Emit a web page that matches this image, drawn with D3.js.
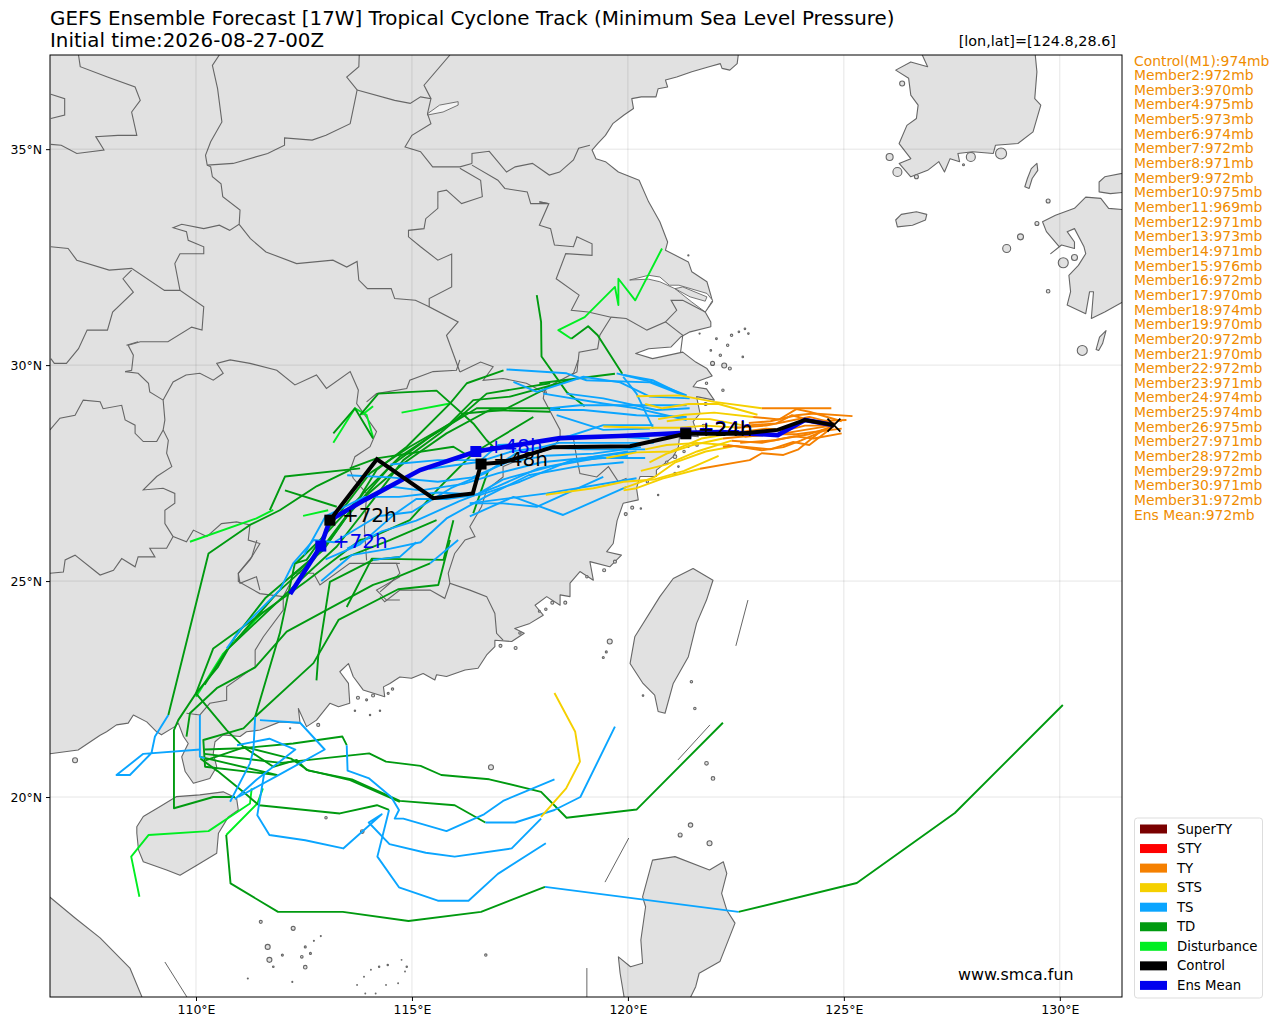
<!DOCTYPE html>
<html><head><meta charset="utf-8">
<script src="https://cdnjs.cloudflare.com/ajax/libs/d3/7.8.5/d3.min.js"></script>
<style>html,body{margin:0;padding:0;background:#fff}svg{display:block}text{font-family:"DejaVu Sans",sans-serif}</style>
</head><body><svg id="c" width="1280" height="1025"></svg>
<script>
const titleLine1="GEFS Ensemble Forecast [17W] Tropical Cyclone Track (Minimum Sea Level Pressure)";
const titleLine2="Initial time:2026-08-27-00Z";
const stormPos="[lon,lat]=[124.8,28.6]";
const lonTicks=[110,115,120,125,130];
const latTicks=[20,25,30,35];
const memberNames=["Control(M1)"].concat(d3.range(2,32).map(i=>"Member"+i)).concat(["Ens Mean"]);
const memberPressure=[974,972,970,975,973,974,972,971,972,975,969,971,973,971,976,972,970,974,970,972,970,972,971,974,974,975,971,972,972,971,972,972];
const legendNames=["SuperTY","STY","TY","STS","TS","TD","Disturbance","Control","Ens Mean"];
const legendColors=["#7a0000","#ff0000","#f58000","#f5d000","#0aa5ff","#009a10","#00ee22","#000000","#0000ee"];

const mainland=[[122.57,37.3],[122.53,36.98],[122.36,36.83],[122.18,36.87],[122.14,36.98],[121.88,36.91],[121.48,36.79],[121.13,36.67],[120.87,36.6],[120.92,36.44],[120.7,36.4],[120.65,36.21],[120.31,36.21],[120.09,36.17],[120.13,35.94],[119.91,35.79],[119.65,35.59],[119.48,35.32],[119.3,35.13],[119.17,34.98],[119.26,34.78],[119.48,34.71],[119.78,34.47],[120.26,34.28],[120.48,33.78],[120.74,33.32],[120.92,32.85],[120.87,32.66],[121.4,32.39],[121.48,32.16],[121.83,31.93],[121.92,31.62],[121.96,31.47],[121.79,31.23],[121.92,31],[121.92,30.89],[121.44,30.77],[121.22,30.65],[121,30.42],[120.48,30.38],[120.18,30.27],[120.57,30.15],[121.27,30.3],[121.57,30.07],[121.83,29.92],[121.95,29.75],[121.6,29.62],[121.51,29.5],[121.82,29.45],[122,29.19],[121.59,29.27],[121.67,28.88],[121.51,28.69],[121.63,28.34],[121.2,28.38],[121.17,28.11],[121.05,27.88],[120.66,27.57],[120.66,27.42],[120.28,27.42],[120.2,27.15],[120.24,26.88],[119.89,26.8],[119.75,26.4],[119.66,25.87],[119.51,25.68],[119.85,25.6],[119.58,25.33],[119.12,25.45],[119.2,25.02],[118.89,25.22],[118.66,24.95],[118.66,24.64],[118.43,24.68],[118.43,24.44],[118.12,24.64],[117.85,24.44],[118.04,24.21],[117.73,24.02],[117.38,23.9],[117.6,23.79],[117.31,23.6],[116.92,23.63],[116.92,23.48],[116.73,23.29],[116.53,22.98],[116.23,22.94],[115.8,22.79],[115.57,22.83],[115.53,22.71],[115.26,22.86],[114.99,22.75],[114.72,22.78],[114.49,22.63],[114.34,22.55],[114.37,22.32],[113.87,22.48],[113.64,22.79],[113.53,23.09],[113.33,22.9],[113.53,22.63],[113.56,22.17],[113.3,22.09],[113.1,22.17],[112.79,21.78],[112.56,21.63],[112.37,22.05],[112.41,21.71],[111.94,21.74],[111.48,21.55],[111.17,21.51],[111.02,21.4],[110.63,21.44],[110.44,21.28],[110.4,21.01],[110.48,20.7],[110.32,20.43],[109.94,20.32],[109.75,20.59],[109.67,20.93],[109.82,21.24],[109.71,21.4],[109.59,21.71],[109.51,21.63],[109.2,21.44],[109.09,21.51],[108.86,21.74],[108.55,21.9],[108.43,21.71],[108.16,21.67],[107.93,21.51],[107.78,21.43],[107.27,21.09],[106.4,20.97],[106.4,37.3]];
const hainan=[[108.63,19.31],[108.78,19.55],[109.17,19.78],[109.55,20.01],[110.09,20.05],[110.63,20.12],[110.94,19.97],[110.98,19.7],[110.75,19.54],[110.52,19.16],[110.48,18.7],[110.02,18.42],[109.63,18.19],[109.32,18.31],[108.78,18.5],[108.67,18.77],[108.63,19.16]];
const taiwan=[[121.51,25.29],[121.97,25.02],[121.82,24.56],[121.59,24.02],[121.4,23.25],[121.05,22.63],[120.86,21.94],[120.7,21.98],[120.62,22.36],[120.35,22.63],[120.05,23.09],[120.16,23.71],[120.74,24.64],[121.05,25.06]];
const luzon=[[120.57,18.54],[121.09,18.62],[121.89,18.31],[122.21,18.5],[122.29,18.23],[122.17,17.77],[122.29,17.38],[122.48,17.08],[122.13,16.19],[121.65,15.92],[121.57,15.61],[121.37,15.2],[119.94,15.2],[119.82,15.92],[119.78,16.3],[120.06,16.07],[120.34,16.15],[120.3,16.69],[120.41,17.46],[120.34,17.69]];
const vietnamSouth=[[106.4,17.68],[106.62,17.68],[107.2,17.2],[107.78,16.74],[108.47,16.04],[108.82,15.2],[106.4,15.2]];
const korea=[[126.76,37.3],[126.94,36.91],[126.55,37.02],[126.2,36.83],[126.5,36.64],[126.55,36.25],[126.72,36.02],[126.68,35.71],[126.46,35.55],[126.28,35.13],[126.55,34.78],[126.28,34.67],[126.55,34.36],[126.94,34.51],[127.2,34.71],[127.33,34.47],[127.46,34.78],[127.68,34.71],[127.64,34.9],[127.98,34.94],[128.46,34.9],[128.51,35.09],[129.03,35.13],[129.38,35.4],[129.56,36.02],[129.42,36.17],[129.47,36.79],[129.42,37.3]];
const jeju=[[126.2,33.36],[126.33,33.49],[126.68,33.55],[126.92,33.49],[126.89,33.36],[126.59,33.24],[126.24,33.2]];
const honshu=[[131.6,34.47],[131.04,34.36],[130.91,34.24],[130.91,34.01],[131.17,33.97],[131.6,34.01]];
const kyushu=[[131.6,33.59],[131.13,33.63],[130.95,33.86],[130.6,33.89],[130.34,33.63],[129.9,33.47],[129.6,33.32],[129.69,33.09],[129.99,32.74],[129.79,32.58],[130.04,32.78],[130.34,32.7],[130.34,32.85],[130.17,33.09],[130.34,33.16],[130.56,32.74],[130.6,32.58],[130.43,32.31],[130.21,32.08],[130.25,31.7],[130.17,31.39],[130.6,31.19],[130.69,31.7],[130.78,31.7],[130.73,31.08],[131.04,31.23],[131.6,31.54]];
const tsushima=[[129.47,34.67],[129.49,34.51],[129.36,34.32],[129.29,34.09],[129.19,34.13],[129.25,34.32],[129.34,34.55]];
const tanegashima=[[131.07,30.8],[130.99,30.5],[130.9,30.34],[130.84,30.36],[130.92,30.65]];
const landPolygons=[mainland,hainan,taiwan,luzon,vietnamSouth,korea,jeju,honshu,kyushu,tsushima,tanegashima];
const yangtze=[[120.04,31.97],[120.48,32.08],[120.74,32.04],[120.96,31.85],[121.18,31.85],[121.83,31.66],[121.96,31.5],[121.79,31.23],[121.48,31.46],[121.09,31.77],[120.74,31.93],[120.48,31.99]];
const chongming=[[121.09,31.77],[121.27,31.81],[121.83,31.58],[121.79,31.48],[121.44,31.58]];
const lakeStrip=[[115.36,35.82],[115.64,36.02],[116.07,36.1],[116.07,36.02],[115.72,35.86],[115.36,35.79]];
const islands=[[126.06,34.82,3.5],[126.24,34.47,4.5],[128.64,34.9,5.5],[127.94,34.82,4.5],[126.68,34.36,2],[126.35,36.52,2.5],[127.77,34.64,1],[129.73,33.8,2],[128.77,32.7,4],[129.09,32.97,3],[129.47,33.28,2],[130.08,32.37,5],[130.34,32.49,3],[129.73,31.71,1.8],[130.52,30.34,5],
[111.5,17.11,1.5],[112.25,16.96,2],[111.66,16.53,2.5],[111.7,16.23,2.5],[112,16.34,1],[112.45,16.3,1.3],[112.53,16.53,1],[112.65,16.38,1],[112.53,16.06,1.8],[111.79,16.07,.8],[112.89,16.78,.5],[112.73,16.67,.5],[111.2,15.8,.5],[112.23,15.72,.5],[113.01,19.52,1.2],[113.85,19.2,1.8],[116.71,16.34,1.2],[116.83,20.69,2.5],
[113.73,15.65,.4],[113.92,15.45,.4],[114.16,15.45,.4],[114.4,15.65,.4],[114.68,15.69,.4],[114.84,15.96,.4],[114.88,16.07,.7],[114.76,16.23,.4],[114.44,16.11,.7],[114.24,16.07,.7],[114.05,16,.4],[113.89,15.84,.4],
[121.45,19.35,2.2],[121.21,19.12,2],[121.89,18.93,2.5],[121.82,20.78,1.8],[121.97,20.43,1.8],[119.58,23.6,2.5],[119.5,23.36,1],[119.43,23.23,1],[121.47,22.67,1.2],[121.55,22.05,1.2],[120.35,22.35,.8],
[121.82,29.58,1.2],[122.2,29.42,1.2],[121.09,27.49,1.2],[121.17,27.65,.8],[120.7,26.99,.7],[120.3,26.68,.7],[121.09,27.88,1.8],[121.4,28.11,.7],[122.05,30.61,.9],[122.4,30.69,1.2],[122.57,30.77,.8],[122.71,30.84,.8],[122.79,30.73,.8],[122.31,30.46,1.2],[121.92,30.34,.8],[122.66,30.19,.8],[122.14,30.23,1.2],[122.23,29.99,2.5],[122.36,29.92,1.5],[121.96,30.04,2],[121.66,30.73,.6],[121.4,32.54,.6],
[113.95,22.25,1],[114.26,22,.7],[114.03,21.9,.7],[113.68,22,.7],[112.83,21.67,1.5],[112.18,21.59,.6],[107.2,20.85,2.5],[117.4,23.45,1.5],[118.1,24.35,1.2],
[119.7,25.45,1.5],[119.45,25.25,1.5],[119.05,25.1,1.2],[118.55,24.5,1.5],[118.25,24.5,1.5],[117.95,24.3,1],[117.5,23.8,1.2],[117.05,23.5,1.5],[114.55,22.5,1.2],[114.1,22.35,1.5],[113.75,22.3,1.5],[114.45,22.4,1],[121.8,29.1,1.5],[121.75,28.6,1.3],[121.6,28.15,1.3],[121.3,28.0,1.2],[120.9,27.75,1.3],[120.45,27.3,1.2],[120.1,26.7,1.5],[119.95,26.55,1.5]];
const dashes=[[[122.5,23.5],[122.78,24.56]],[[121.16,20.86],[121.9,21.67]],[[119.47,18.03],[120.02,19.05]],[[119.05,16.04],[119.05,15.37]],[[109.28,16.18],[109.79,15.37]]];
const borders=[
[[107.28,37.18],[107.32,36.91],[107.95,36.67],[108.59,36.44],[108.71,36.13],[108.51,35.86],[108.63,35.32],[108.19,35.32],[107.68,35.29],[107.87,34.98],[107.24,34.9],[106.88,35.09],[106.64,35.11]],
[[106.64,36.27],[106.96,36.17],[106.96,35.79],[106.64,35.71]],
[[110.54,37.18],[110.38,36.94],[110.5,36.4],[110.6,35.63],[110.34,35.17],[110.22,34.86],[110.26,34.63],[110.34,34.59],[110.38,34.36],[110.58,34.2],[110.62,33.9],[111.02,33.59],[111,33.26],[110.78,33.12],[110.54,33.24],[110.18,33.16],[109.67,33.26],[109.47,33.18],[109.78,33.09],[109.82,32.89],[110.18,32.74],[110.18,32.58],[109.63,32.58],[109.51,32.35],[109.63,31.73]],
[[110.26,34.63],[110.86,34.67],[111.66,34.9],[112.05,35.09],[112.05,35.26],[112.69,35.21],[113.01,35.32],[113.57,35.59],[113.69,36.17],[113.73,36.37],[113.49,36.67],[113.77,36.91],[113.78,37.18]],
[[113.73,36.37],[114.6,36.13],[114.96,36.06],[115.2,36.21],[115.44,36.17],[115.36,35.82],[115.44,35.59],[115,35.32],[114.84,35.05],[115.2,34.94],[115.48,34.59],[116.11,34.59],[116.39,34.67]],
[[115.44,36.17],[115.28,36.48],[115.88,37.18]],
[[116.39,34.67],[116.39,34.9],[116.79,34.95],[117.19,34.47],[117.39,34.59],[117.79,34.67],[118.18,34.4],[118.42,34.47],[118.74,34.75],[118.86,35.02],[119.12,35.09]],
[[116.11,34.56],[116.59,34.28],[116.63,33.9],[116.15,33.74],[115.8,34.05],[115.6,34.01],[115.6,33.63],[115.32,33.39],[115.28,33.16],[114.92,33.12],[114.92,32.97],[115.2,32.74],[115.6,32.43],[115.92,32.57],[115.92,31.81],[115.4,31.54],[115.4,31.35],[116.07,31],[115.8,30.69],[116.11,29.84]],
[[116.39,34.63],[116.99,34.28],[117.15,34.09],[117.67,34.01],[117.75,33.74],[118.15,33.74],[117.95,33.78]],
[[111,33.26],[111.26,32.93],[111.62,32.62],[112.33,32.35],[113.17,32.43],[113.49,32.27],[113.73,32.4],[113.77,31.97],[113.97,31.77],[114.52,31.77],[114.6,31.54],[115.08,31.5],[115.4,31.35]],
[[106.64,32.74],[107.04,32.7],[107.24,32.43],[107.99,32.2],[108.51,32.24],[109.27,31.73],[109.63,31.73],[110.18,31.35],[110.14,30.81],[109.9,30.88],[109.35,30.54],[108.71,30.54],[108.43,30.46],[108.55,30.23],[108.51,29.88],[108.36,29.85]],
[[108.51,32.2],[108.31,32],[108.55,31.69],[108.07,31.23],[107.95,30.81],[107.48,30.81],[107.28,30.38],[107,30.04],[106.72,30.04],[106.64,30.15]],
[[108.39,30.46],[108.66,30.54]],
[[108.36,29.85],[108.66,29.81],[108.9,29.58],[108.93,29.38],[109.24,29.19]],
[[109.24,29.19],[109.47,29.61],[109.77,29.77],[110.09,29.81],[110.4,29.65],[110.63,29.81],[110.48,30.04],[110.79,30.12],[111.25,30.04],[111.87,29.88],[112.29,29.54],[112.79,29.77],[113.02,29.46],[113.57,29.85],[113.76,29.42],[113.72,29.11],[114.18,28.46],[114.03,28.11],[113.68,27.88],[113.57,27.57],[113.64,27.38],[113.95,27.03],[113.9,26.2],[113.95,25.48]],
[[106.62,28.5],[106.85,28.77],[107.2,28.84],[107.39,29.19],[107.78,29.15],[107.85,28.99],[108.28,29.07],[108.36,28.73],[108.59,28.61],[108.59,28.42],[108.78,28.23],[109.09,28.23],[109.24,28.5]],
[[109.24,29.19],[109.28,28.73],[109.24,28.5],[109.36,28.26],[109.32,27.96],[109.44,27.65],[109.09,27.42],[108.78,27.11],[109.24,27.15],[109.51,27.03],[109.51,26.8],[109.28,26.64],[109.28,26.33],[109.47,26.03],[109.32,25.76],[108.93,25.76],[109.05,25.56],[108.66,25.56],[108.59,25.33],[108.28,25.52],[108.09,25.25],[107.78,25.14],[107.2,25.6],[106.97,25.49],[106.93,25.21],[106.62,25.18]],
[[109.47,26.03],[109.78,25.91],[109.94,26.18],[110.25,26.03],[110.59,26.33],[110.94,26.37],[111.25,26.3],[111.21,25.95],[111.48,25.87],[111.25,25.49],[110.98,25.18],[111.02,24.95],[111.4,25.1],[111.48,24.79]],
[[111.41,25.95],[111.29,25.56],[110.98,25.18],[110.98,24.99],[111.48,24.71],[112.02,24.64]],
[[113.95,29.15],[114.18,29.34],[114.88,29.46],[114.95,29.65],[115.49,29.85],[116.03,29.88],[116.11,30.12]],
[[116.11,29.84],[116.59,30.07],[116.88,29.96],[116.65,29.65],[117.11,29.69],[117.65,29.58],[118.12,29.34],[118.08,29.46]],
[[118.85,30.12],[118.74,29.81],[118.08,29.46],[118.04,29.23],[118.27,28.8],[118.43,28.5],[118.43,28.3],[118.74,28.3],[118.81,27.88],[118.89,27.49],[119.28,27.41],[119.55,27.65],[119.78,27.3],[119.97,27.38]],
[[118.43,28.3],[118.23,28.07],[117.65,27.88],[117.11,27.65],[117.11,27.41],[116.73,27.11],[116.61,26.72],[116.34,26.26],[116.46,26.03],[116.23,25.95],[115.99,25.64],[115.84,25.18],[115.88,24.95],[116.34,24.79],[116.73,24.64],[116.92,24.25],[116.96,23.79],[117.11,23.63]],
[[115.88,24.95],[115.76,24.6],[115.42,24.79],[114.72,24.79],[114.37,24.52],[114.26,24.64]],
[[114.26,25.41],[114.64,25.41],[114.72,25.18],[114.49,24.95],[114.26,24.75]],
[[114.72,25.1],[114.18,24.79],[114.41,24.56],[114.72,24.56]],
[[114.72,25.41],[114.03,25.41],[113.56,25.41],[112.87,24.91],[112.72,25.18],[112.25,25.18],[112.18,24.95],[112.02,24.64],[112.02,24.33],[111.56,23.71],[111.37,23.4],[111.37,23.02],[110.71,22.55],[110.71,22.24],[110.32,22.17],[110.09,21.9],[109.78,21.94]],
[[117.95,33.78],[118.17,33.74],[117.95,33.24],[118.21,33.16],[118.3,32.78],[118.74,32.74],[118.82,32.97],[119.17,32.81],[119.17,32.54],[118.56,32.58],[118.34,32],[118.87,31.62],[118.69,31.27],[119.08,31.23],[119.61,31.11],[119.96,31.08],[120.44,30.81],[120.87,31],[121.22,30.73],[121.27,30.69],[121.22,30.3]],
[[119.61,31.11],[119.35,30.69],[119.3,30.38],[118.87,30.3],[118.82,29.84],[118.69,29.77]],
[[120.87,31],[121.13,31.27],[121,31.5],[121.27,31.5],[121.79,31.23]]
];

const tracksTY=[
[[124.71,29],[123.1,29]],
[[124.95,28.7],[124.2,28.92],[123.9,28.98],[123.5,28.74],[122.9,28.8]],
[[125.2,28.82],[124.3,28.88],[123.9,28.84],[123.3,28.7],[122.8,28.66]],
[[125.06,28.73],[124.3,28.7],[123.8,28.84],[123.44,28.65],[122.7,28.6]],
[[124.8,28.6],[124.1,28.6],[123.7,28.5],[123.2,28.53],[122.6,28.45]],
[[124.95,28.53],[124.3,28.45],[123.9,28.4],[123.4,28.4],[122.7,28.34]],
[[124.95,28.42],[124.3,28.3],[123.85,28.35],[123.4,28.26],[122.6,28.2]],
[[124.79,28.6],[124.2,28.15],[123.83,28.22],[123.3,28.05],[122.5,28.13],[122.2,28.11]],
[[124.7,28.55],[124,28.25],[123.6,28.1],[123.1,28.03],[122.3,28.15]],
[[124.5,28.5],[123.95,28.05],[123.6,27.92],[123.1,27.96],[122.82,27.8],[121.67,27.6]],
[[124.71,28.6],[124.1,28.5],[123.5,28.4],[122.9,28.37],[122.2,28.3]],
[[124.8,28.65],[124.2,28.8],[123.7,28.7],[123.2,28.6],[122.5,28.55]],
[[124.8,28.6],[124.2,28.4],[123.6,28.3],[123.1,28.2],[122.4,28.25]]
];
const tracksSTS=[
[[123.1,29],[122,29.15],[121.2,29.3],[120.2,29.28]],
[[123,28.85],[122.1,29.1],[121.4,29.1],[120.8,29],[120.4,29.1]],
[[122.9,28.8],[122,28.9],[121.3,28.85],[120.7,28.75]],
[[122.7,28.6],[121.9,28.75],[121.3,28.75],[120.9,28.7]],
[[122.6,28.55],[121.8,28.6],[121.2,28.55],[120.4,28.55],[119.43,28.58]],
[[122.6,28.45],[121.7,28.3],[121,28],[120.2,27.98],[119.5,27.85]],
[[122.3,28.15],[121.6,28.2],[120.9,28.15],[120.4,28.05]],
[[122.2,28.3],[121.5,28.15],[120.9,27.95],[120.5,27.75]],
[[122.5,28.13],[121.8,28],[121.1,27.75],[120.6,27.4],[119.9,27.15]],
[[122.1,27.9],[121.3,27.55],[120.6,27.35],[119.9,27.3],[119.2,27.15],[118.1,27]],
[[121.67,27.6],[120.8,27.37],[120.2,27.15],[119.9,27.1]],
[[122.4,28.25],[121.6,28],[120.9,27.7],[120.3,27.55]],
[[118.3,22.41],[118.78,21.51],[118.89,20.82],[118.57,20.2],[117.99,19.54]]
];
const tracksTS=[
[[117.19,29.9],[118.58,29.81],[119.04,29.65],[120.51,29.6],[121.36,29.27]],
[[119.74,29.81],[120.59,29.6],[121.36,29.3]],
[[117.35,29.61],[117.89,29.38],[118.97,29.73],[119.82,29.6],[120.51,29.27],[121.43,29.23]],
[[118.04,29.34],[119.43,29.11],[120.2,29],[121.36,28.73]],
[[118.58,29.34],[119.43,29.23],[120.66,28.96],[121.43,29]],
[[118.2,29],[118.89,29.07],[120.2,29.07],[121.36,29.07]],
[[119.89,29.73],[120.2,29.34],[120.59,28.53]],
[[118.2,28.96],[118.97,28.96],[120.2,28.84],[121.36,28.8]],
[[118.35,28.84],[119.43,28.5],[120.51,28.53]],
[[118.35,28.26],[119.43,28.61],[120.59,28.61]],
[[119.91,29.77],[120.57,29.65],[121.3,29.3]],
[[116.34,26.8],[117.11,26.8],[117.89,26.72],[119.43,27.41]],
[[116.34,26.8],[118.12,27.03],[120.2,27.38]],
[[116.34,26.5],[117.35,26.95],[118.5,26.53],[119.97,27.18]],
[[120.2,28],[119,27.85],[118,27.75],[117,27.5],[116.2,27.25],[115.2,27.1],[114.4,27.2]],
[[120.3,28.1],[119.2,27.95],[118.1,27.9],[117.2,27.75],[116.4,27.4],[115.6,27.3],[114.5,27.4],[113.5,27.45]],
[[120.4,28.05],[119,28.05],[118,28.1],[117.3,28],[116.5,27.75],[115.4,27.6]],
[[120,27.9],[118.9,27.8],[117.9,27.6],[117,27.2],[116.1,26.85],[115.1,26.4],[114.3,26.15],[113.5,25.75]],
[[119.9,27.75],[118.8,27.65],[117.7,27.45],[116.7,26.95],[115.8,26.45],[115.2,25.9],[114.5,25.75],[113.6,25.6],[112.9,25]],
[[120.6,28.2],[119.4,28.2],[118.4,28.2],[117.4,27.95],[116.7,27.5],[115.9,27.15],[115,26.6],[114.2,26.5],[113.2,25.9],[112.72,25.95],[112.25,25.41],[111.94,24.79],[111.02,23.87],[110.71,23.44]],
[[120.5,28.3],[119.5,28.35],[118.6,28.35],[117.9,28.2],[117,28.15],[116.6,27.8],[115.6,27.8],[114.5,27.7]],
[[120,28],[118.7,27.8],[117.5,27.3],[116.6,27],[115.6,27.05],[114.7,26.95],[113.9,26.95],[113,26.5],[112.5,25.6]],
[[120.4,27.85],[119.3,27.85],[118.2,27.65],[117.1,27.35],[116.5,27],[115.8,26.9],[115.1,26.9],[114.6,26.55],[113.8,25.85],[113,25.5]],
[[116.07,25.95],[115.42,25.41]],
[[115.1,25.9],[114.72,25.56],[114.1,25.49]],
[[109.36,21.9],[109.05,21.4],[108.97,21.02],[108.47,20.51],[108.16,20.51],[108.78,21],[110.1,21.1]],
[[110.09,21.9],[110.09,20.93],[110.2,20.9]],
[[111.37,21.86],[111.33,21.09],[111.25,20.78],[110.79,19.89]],
[[111.48,21.78],[112.41,21.72],[112.98,21.1],[111.9,20.5],[110.98,20]],
[[110.95,21.2],[111.7,21.35],[112.3,21.1],[111.4,20.4],[110.9,19.95]],
[[119.7,21.63],[118.9,20],[118.3,19.7],[117.39,19.41],[116.7,19.41]],
[[118.3,20.41],[117.11,19.91],[116.67,19.6],[115.8,19.21],[114.8,19.5],[114.6,19.5],[114.7,19.7],[114.52,20],[114.01,20.43],[113.51,20.61],[113.49,21.2]],
[[118.1,18.93],[116.99,18.22],[116.31,17.6],[115.6,17.6],[114.7,17.91],[114.2,18.62],[114.47,19.7]],
[[117.99,19.5],[117.31,18.81],[115.99,18.62],[115.32,18.71],[114.48,18.91],[114,19.41],[114.3,19.6],[113.41,18.81],[112.53,19],[111.7,19.12],[111.42,19.58],[111.58,20.55]],
[[122.56,17.34],[118.08,17.92]]
];
const tracksTD=[
[[117.12,29.88],[116.27,29.58],[115.88,29.11],[114.88,28.11],[114.18,27.57],[113.8,26.95],[112.87,25.95],[112.3,25.4]],
[[118.2,29.58],[116.73,29.34],[116.03,28.73],[114.95,28.11],[114.03,27.5],[113.26,26.49],[112.56,25.49],[112.29,25.41],[111.94,23.79],[111.37,21.86]],
[[118.66,29.65],[117.27,29.27],[116.42,29.19],[115.88,28.65],[114.72,27.88],[113.87,27.03],[113.1,25.95],[112.64,25.49],[111.6,24.6],[110.9,23.7],[110.5,23],[110,22.4],[110.71,21.55],[111.1,21.16],[111.79,20.7],[112.33,20.86],[112.56,20.63],[113.57,20.39],[114.72,19.89]],
[[118.35,29.58],[117.12,28.96],[116.19,28.88],[115.65,28.42],[114.8,27.8],[114.1,26.88],[113.26,25.8],[112.5,25.1],[110.71,23.4],[110.2,22.6]],
[[118.2,28.92],[116.8,28.96],[115.8,28.42],[114.8,27.72],[113.64,26.72],[112.72,25.49],[111.9,24.75],[110.9,23.6]],
[[118.43,29],[116.5,29],[115.42,28.34],[114.49,27.65],[113.49,26.49],[112.95,25.72],[112.2,25.1]],
[[117.81,28.8],[116.8,28.19],[116.42,27.96],[115.65,27.18],[114.95,26.41],[114.03,26],[113.8,25.95],[112.56,25],[110.4,23.44],[110,22.4],[109.59,21.78],[109.49,21.55],[109.49,19.74],[110.4,20],[110.9,20]],
[[113.56,27.61],[114.18,27.84],[115.96,28.11],[116.27,27.92]],
[[113.56,27.57],[112.8,27.2],[111.94,26.64],[111.25,26.3],[110.29,25.64],[109.36,21.9]],
[[113.8,27.61],[112.06,27.42],[111.71,26.64]],
[[112.06,27.1],[113.26,26.72]],
[[116.77,27.57],[116.42,26.57]],
[[115.96,26.41],[115.73,25.49],[114.07,25.52],[113.49,24.4]],
[[115.57,26.41],[114.49,25.95],[113.33,25.49]],
[[115.42,25.41],[114.72,25.12],[114.1,24.91],[112.1,23.83],[111.37,23],[110.48,22.52],[109.86,21.94],[109.78,21.4]],
[[115.88,25.95],[115.61,24.91],[114.68,24.81],[113.3,24.1],[112.72,23.1],[111.37,21.86],[111.1,21.59],[110.17,21.32],[110.21,20.7],[111.87,20.51],[110.1,20.93]],
[[114.72,25.56],[114.1,25.49],[113.1,24.98],[112.83,23.25],[112.79,22.7]],
[[113.8,28.84],[114.22,29.34],[115.57,29.41],[116.42,28.65],[116.73,28.26],[116.88,28.11]],
[[117.89,31.62],[117.99,31],[118,30.2],[118.58,29.38],[119,29.05]],
[[118.69,30.61],[119.08,30.9],[119.3,30.69],[119.87,29.8]],
[[119.7,29.8],[117.95,29.58]],
[[113.18,28.42],[113.68,29],[114.1,28.3]],
[[116.7,19.41],[115.99,19.81],[114.72,19.91],[113.61,20.41],[112.61,20.61],[112.2,20.89],[111.14,21.16],[110.22,20.85]],
[[113.49,21.2],[113.39,21.4],[112.25,21.24],[111.06,21.13],[110.2,21.1]],
[[122.2,21.72],[120.2,19.71],[118.58,19.52],[117.99,20.12],[116.79,20.41],[115.68,20.51],[115.2,20.72],[114.4,20.82],[114.01,21.01],[111.97,20.79],[110.2,21]],
[[114.47,19.7],[114.19,19.81],[113.33,19.62],[111.46,19.81],[111.14,20.08],[110.5,20.6],[110.1,20.89]],
[[130.07,22.13],[127.57,19.63],[125.3,18.01],[122.56,17.34]],
[[118.08,17.92],[116.6,17.34],[114.92,17.13],[113.4,17.34],[111.9,17.34],[110.8,18],[110.7,19.12]]
];
const tracksDist=[
[[109.86,25.91],[111.4,26.45],[111.79,26.65]],
[[112.48,26.51],[113.06,26.64]],
[[113.18,28.2],[113.68,29],[113.95,28.85],[114.1,28.33]],
[[113.85,28.85],[114.1,29.05]],
[[114.76,28.9],[115.88,29.11]],
[[118.69,30.61],[118.39,30.81],[119,31.11],[119.7,31.81],[119.78,31.39],[119.78,32],[120.17,31.5],[120.79,32.7]],
[[111.56,24.29],[110.63,23.32],[110,22.32]],
[[108.69,17.69],[108.5,18.62],[108.9,19.12],[110.29,19.21],[111.25,19.85],[111.29,20.2]],
[[110.7,19.12],[111.42,19.85],[111.55,20.2]]
];
const ensMean=[[124.77,28.61],[124.1,28.73],[123.47,28.38],[122.13,28.45],[121.34,28.43],[119.81,28.36],[118.43,28.31],[116.48,28],[115.19,27.57],[113.91,26.88],[113.1,26.41],[112.89,25.81],[112.18,24.7]];
const control=[[124.77,28.61],[124.1,28.73],[123.47,28.5],[122.6,28.41],[121.34,28.41],[120.05,28.12],[118.26,28.1],[117.11,27.75],[116.6,27.71],[116.41,27.03],[115.49,26.92],[114.19,27.82],[113.1,26.41]];
const meanMarks=[[121.34,28.43,"+24h"],[116.48,28,"+48h"],[112.89,25.81,"+72h"]];
const controlMarks=[[121.34,28.41,"+24h"],[116.6,27.71,"+48h"],[113.1,26.41,"+72h"]];
const stormStart=[124.77,28.61];

const svg=d3.select("#c");
const x=d3.scaleLinear().domain([106.62,131.44]).range([50,1122]);
const y=d3.scaleLinear().domain([15.37,37.18]).range([997,55]);
const line=d3.line().x(d=>x(d[0])).y(d=>y(d[1]));
svg.append("defs").append("clipPath").attr("id","plot").append("rect").attr("x",50).attr("y",55).attr("width",1072).attr("height",942);
const map=svg.append("g").attr("clip-path","url(#plot)");
const landFill="#e1e1e1",edge="#666";
map.selectAll(".land").data(landPolygons).join("path").attr("d",d=>line(d)+"Z").attr("fill",landFill).attr("stroke",edge).attr("stroke-width",1.1).attr("stroke-linejoin","round");
map.append("path").attr("d",line(yangtze)+"Z").attr("fill","#fff").attr("stroke",edge).attr("stroke-width",.9);
map.append("path").attr("d",line(chongming)+"Z").attr("fill",landFill).attr("stroke",edge).attr("stroke-width",.9);
map.append("path").attr("d",line(lakeStrip)+"Z").attr("fill","#f4f4f4").attr("stroke",edge).attr("stroke-width",.9);
map.selectAll(".isl").data(islands).join("circle").attr("cx",d=>x(d[0])).attr("cy",d=>y(d[1])).attr("r",d=>d[2]).attr("fill",landFill).attr("stroke",edge).attr("stroke-width",1.1);
map.selectAll(".bd").data(borders).join("path").attr("d",line).attr("fill","none").attr("stroke",edge).attr("stroke-width",1.1);
map.selectAll(".ds").data(dashes).join("path").attr("d",line).attr("fill","none").attr("stroke",edge).attr("stroke-width",1);
const grid=map.append("g").attr("stroke","#000").attr("stroke-opacity",.1).attr("stroke-width",1);
grid.selectAll(".gx").data(lonTicks).join("line").attr("x1",d=>x(d)).attr("x2",d=>x(d)).attr("y1",55).attr("y2",997);
grid.selectAll(".gy").data(latTicks).join("line").attr("y1",d=>y(d)).attr("y2",d=>y(d)).attr("x1",50).attr("x2",1122);
function drawTracks(data,color,w){map.append("g").selectAll("path").data(data).join("path").attr("d",line).attr("fill","none").attr("stroke",color).attr("stroke-width",w).attr("stroke-linejoin","round");}
drawTracks(tracksDist,legendColors[6],1.9);
drawTracks(tracksTD,legendColors[5],1.9);
drawTracks(tracksTS,legendColors[4],1.9);
drawTracks(tracksSTS,legendColors[3],1.9);
drawTracks(tracksTY,legendColors[2],1.9);
function mainTrack(data,marks,color,w){
 map.append("path").attr("d",line(data)).attr("fill","none").attr("stroke",color).attr("stroke-width",w).attr("stroke-linejoin","miter");
 map.selectAll(null).data(marks).join("rect").attr("x",d=>x(d[0])-5.5).attr("y",d=>y(d[1])-5.5).attr("width",11).attr("height",11).attr("fill",color);
 map.selectAll(null).data(marks).join("text").attr("x",d=>x(d[0])+12).attr("y",d=>y(d[1])+2).attr("font-size",20).attr("fill",color).text(d=>d[2]);
}
mainTrack(ensMean,meanMarks,"#0000ee",4.6);
mainTrack(control,controlMarks,"#000",4);
const sx=x(stormStart[0]),sy=y(stormStart[1]);
map.append("path").attr("d",d3.symbol(d3.symbolX,110)()).attr("transform",`translate(${sx},${sy})`).attr("fill","none").attr("stroke","#000").attr("stroke-width",1.8);
svg.append("rect").attr("x",50).attr("y",55).attr("width",1072).attr("height",942).attr("fill","none").attr("stroke","#000").attr("stroke-width",1);
const axB=svg.append("g").attr("transform","translate(0,997)").call(d3.axisBottom(x).tickValues(lonTicks).tickFormat(d=>d+"°E").tickSize(4).tickPadding(4));
const axL=svg.append("g").attr("transform","translate(50,0)").call(d3.axisLeft(y).tickValues(latTicks).tickFormat(d=>d+"°N").tickSize(4).tickPadding(4));
[axB,axL].forEach(a=>{a.select(".domain").remove();a.selectAll("text").attr("font-size",12.5).attr("font-family","DejaVu Sans").attr("fill","#000");a.selectAll("line").attr("stroke","#000");});
svg.append("text").attr("x",50).attr("y",25).attr("font-size",19.85).text(titleLine1);
svg.append("text").attr("x",50).attr("y",47).attr("font-size",19.85).text(titleLine2);
svg.append("text").attr("x",1116).attr("y",46).attr("text-anchor","end").attr("font-size",14.4).text(stormPos);
svg.append("g").selectAll("text").data(memberNames).join("text").attr("x",1134).attr("y",(d,i)=>65.5+i*14.65).attr("font-size",13.9).attr("fill","#f08c00").text((d,i)=>d+":"+memberPressure[i]+"mb");
svg.append("rect").attr("x",1134.5).attr("y",818).attr("width",128).attr("height",180).attr("rx",3).attr("fill","#fff").attr("stroke","#ddd");
const lg=svg.append("g").selectAll("g").data(legendNames).join("g").attr("transform",(d,i)=>`translate(0,${829+i*19.55})`);
lg.append("rect").attr("x",1140).attr("y",-4.5).attr("width",27).attr("height",9).attr("fill",(d,i)=>legendColors[i]);
lg.append("text").attr("x",1177).attr("y",4.5).attr("font-size",13.3).text(d=>d);
svg.append("text").attr("x",958).attr("y",980).attr("font-size",15.9).text("www.smca.fun");
</script></body></html>
